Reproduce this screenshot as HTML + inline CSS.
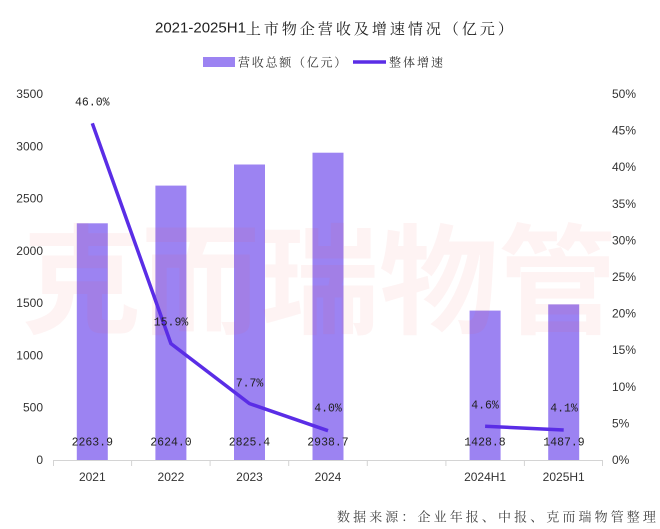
<!DOCTYPE html>
<html><head><meta charset="utf-8"><style>
html,body{margin:0;padding:0;background:#fff;}
svg{display:block;}
</style></head><body>
<svg width="660" height="529" viewBox="0 0 660 529" xmlns="http://www.w3.org/2000/svg" style="font-family:'Liberation Sans','Noto Sans CJK SC',sans-serif">
<rect width="660" height="529" fill="#fff"/>
<!-- title -->
<text x="155" y="28" dominant-baseline="central" font-size="15" fill="#222" style="font-family:'Liberation Sans','Noto Sans CJK SC',sans-serif">2021-2025H1<tspan letter-spacing="3" style="font-family:'Noto Serif CJK SC',serif">上市物企营收及增速情况（亿元）</tspan></text>
<!-- legend -->
<rect x="203" y="57" width="32" height="10" fill="#9c83f2"/>
<text x="238" y="62" dominant-baseline="central" font-size="12" letter-spacing="1.75" fill="#333" style="font-family:'Noto Serif CJK SC',serif">营收总额（亿元）</text>
<line x1="353" y1="62" x2="386" y2="62" stroke="#5a2de6" stroke-width="3.5"/>
<text x="389" y="62" dominant-baseline="central" font-size="12" letter-spacing="2" fill="#333" style="font-family:'Noto Serif CJK SC',serif">整体增速</text>

<!-- left axis labels -->
<g font-size="12" fill="#333" text-anchor="end">
<text x="43" y="460" dominant-baseline="central">0</text>
<text x="43" y="407.7" dominant-baseline="central">500</text>
<text x="43" y="355.4" dominant-baseline="central">1000</text>
<text x="43" y="303.1" dominant-baseline="central">1500</text>
<text x="43" y="250.9" dominant-baseline="central">2000</text>
<text x="43" y="198.6" dominant-baseline="central">2500</text>
<text x="43" y="146.3" dominant-baseline="central">3000</text>
<text x="43" y="94" dominant-baseline="central">3500</text>
</g>
<!-- right axis labels -->
<g font-size="12" fill="#333">
<text x="612" y="460" dominant-baseline="central">0%</text>
<text x="612" y="423.4" dominant-baseline="central">5%</text>
<text x="612" y="386.8" dominant-baseline="central">10%</text>
<text x="612" y="350.2" dominant-baseline="central">15%</text>
<text x="612" y="313.6" dominant-baseline="central">20%</text>
<text x="612" y="277" dominant-baseline="central">25%</text>
<text x="612" y="240.4" dominant-baseline="central">30%</text>
<text x="612" y="203.8" dominant-baseline="central">35%</text>
<text x="612" y="167.2" dominant-baseline="central">40%</text>
<text x="612" y="130.6" dominant-baseline="central">45%</text>
<text x="612" y="94" dominant-baseline="central">50%</text>
</g>

<!-- bars -->
<g fill="#9c83f2">
<rect x="76.8" y="223.3" width="31" height="236.7"/>
<rect x="155.4" y="185.6" width="31" height="274.4"/>
<rect x="234" y="164.5" width="31" height="295.5"/>
<rect x="312.5" y="152.7" width="31" height="307.3"/>
<rect x="469.6" y="310.6" width="31" height="149.4"/>
<rect x="548.2" y="304.4" width="31" height="155.6"/>
</g>

<!-- watermark -->
<text x="22" y="273" dominant-baseline="central" font-size="119" font-weight="bold" fill="rgb(240,90,90)" fill-opacity="0.07" style="font-family:'Noto Sans CJK SC',sans-serif">克而瑞物管</text>

<!-- x axis -->
<g stroke="#d4d4d4" stroke-width="1">
<line x1="53" y1="460.5" x2="603" y2="460.5"/>
<line x1="53.5" y1="460" x2="53.5" y2="466"/>
<line x1="131.6" y1="460" x2="131.6" y2="466"/>
<line x1="210.1" y1="460" x2="210.1" y2="466"/>
<line x1="288.7" y1="460" x2="288.7" y2="466"/>
<line x1="367.3" y1="460" x2="367.3" y2="466"/>
<line x1="445.9" y1="460" x2="445.9" y2="466"/>
<line x1="524.4" y1="460" x2="524.4" y2="466"/>
<line x1="602.5" y1="460" x2="602.5" y2="466"/>
</g>
<g font-size="12" fill="#333" text-anchor="middle">
<text x="92.3" y="477" dominant-baseline="central">2021</text>
<text x="170.9" y="477" dominant-baseline="central">2022</text>
<text x="249.5" y="477" dominant-baseline="central">2023</text>
<text x="328" y="477" dominant-baseline="central">2024</text>
<text x="485.1" y="477" dominant-baseline="central">2024H1</text>
<text x="563.7" y="477" dominant-baseline="central">2025H1</text>
</g>

<!-- line -->
<polyline points="92.3,123.3 170.9,343.6 249.5,403.6 328,430.7" fill="none" stroke="#5a2de6" stroke-width="3.5" stroke-linejoin="round"/>
<polyline points="485.1,426.3 563.7,430" fill="none" stroke="#5a2de6" stroke-width="3.5"/>

<!-- data labels -->
<g font-size="11.5" fill="#222" text-anchor="middle" style="font-family:'Liberation Mono',monospace">
<text x="92.3" y="103" dominant-baseline="central">46.0%</text>
<text x="171" y="323" dominant-baseline="central">15.9%</text>
<text x="249.5" y="384" dominant-baseline="central">7.7%</text>
<text x="328" y="409" dominant-baseline="central">4.0%</text>
<text x="485" y="406" dominant-baseline="central">4.6%</text>
<text x="564" y="409" dominant-baseline="central">4.1%</text>
<text x="92.3" y="443" dominant-baseline="central">2263.9</text>
<text x="171" y="443" dominant-baseline="central">2624.0</text>
<text x="249.5" y="443" dominant-baseline="central">2825.4</text>
<text x="328" y="443" dominant-baseline="central">2938.7</text>
<text x="485" y="443" dominant-baseline="central">1428.8</text>
<text x="564" y="443" dominant-baseline="central">1487.9</text>
</g>

<!-- source -->
<text x="337" y="516" dominant-baseline="central" font-size="13" letter-spacing="3.1" fill="#444" style="font-family:'Noto Serif CJK SC',serif">数据来源：企业年报、中报、克而瑞物管整理</text>
</svg>
</body></html>
